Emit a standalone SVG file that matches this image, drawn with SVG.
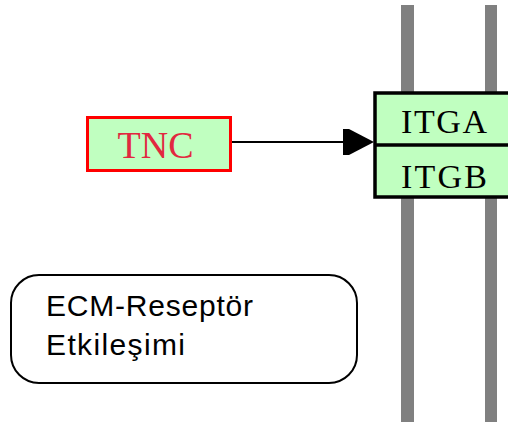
<svg xmlns="http://www.w3.org/2000/svg" width="508" height="426" viewBox="0 0 508 426">
<style>
.bar{fill:#808080}
.serif{font-family:"Liberation Serif","Times New Roman",serif}
.sans{font-family:"Liberation Sans",Arial,sans-serif;fill:#000}
</style>
<rect width="508" height="426" fill="#fff"/>
<g id="membrane">
<rect class="bar" x="401" y="5" width="13" height="417"/>
<rect class="bar" x="485" y="5" width="12" height="417"/>
</g>
<g id="connectors">
<line x1="232" y1="142" x2="346" y2="142" stroke="#000" stroke-width="2"/>
<polygon points="343,129 349,129 374,142 349,155 343,155" fill="#000"/>
</g>
<g id="TNC">
<rect x="87.5" y="117.5" width="143" height="53" fill="#c0ffc0" stroke="#ff0000" stroke-width="3"/>
<text class="serif" x="155.5" y="158" font-size="38" text-anchor="middle" fill="#e2283f">TNC</text>
</g>
<g id="ITG">
<rect x="375" y="93" width="140" height="104" fill="#c0ffc0" stroke="#000" stroke-width="3.5"/>
<line x1="375" y1="145" x2="515" y2="145" stroke="#000" stroke-width="3.5"/>
<text class="serif" x="401" y="133" font-size="34" fill="#000" textLength="86">ITGA</text>
<text class="serif" x="401" y="188" font-size="34" fill="#000" textLength="86">ITGB</text>
</g>
<g id="ECM">
<rect x="11" y="275" width="346" height="108" rx="28" ry="28" fill="#fff" stroke="#000" stroke-width="2"/>
<text class="sans" x="46" y="316" font-size="30" textLength="207">ECM-Reseptör</text>
<text class="sans" x="46" y="355" font-size="30" textLength="139">Etkileşimi</text>
</g>
</svg>
